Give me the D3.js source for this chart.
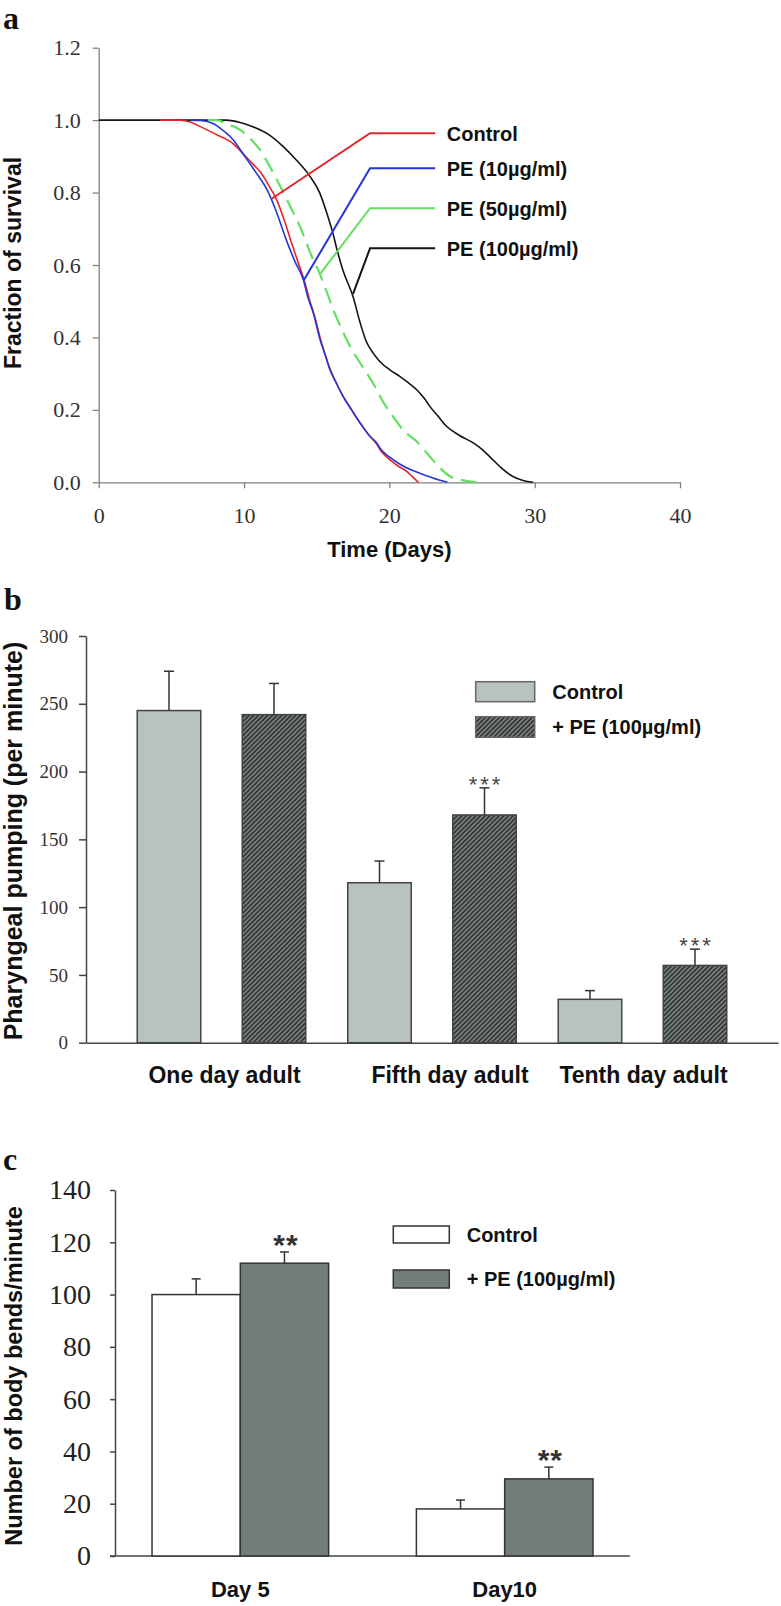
<!DOCTYPE html>
<html><head><meta charset="utf-8">
<script src="https://cdn.jsdelivr.net/npm/d3@7"></script>
<style>body{margin:0;background:#fff}svg{display:block}</style>
</head><body>
<svg id="fig" width="781" height="1606"></svg>
<script>
// ---------------- DATA ----------------
// Panel a: survival curves [day, fraction]
const survivalNames = ["Control", "PE (10µg/ml)", "PE (50µg/ml)", "PE (100µg/ml)"];
const survControl = [[4.2,1.0],[5.6,1.0],[6.3,0.995],[7.0,0.982],[8.0,0.962],[9.25,0.935],[10.1,0.9],[10.7,0.875],[11.1,0.858],[11.7,0.82],[12.25,0.78],[12.8,0.72],[13.2,0.67],[13.7,0.61],[14.2,0.55],[14.5,0.505],[14.85,0.46],[15.3,0.39],[15.6,0.35],[15.95,0.31],[16.4,0.27],[16.85,0.236],[17.4,0.2],[18.0,0.163],[18.6,0.13],[19.14,0.105],[19.4,0.088],[20.05,0.062],[20.6,0.045],[21.2,0.03],[21.6,0.015],[22.0,0.0]];
const survPE10 = [[6.3,1.0],[7.0,0.999],[7.9,0.99],[8.6,0.97],[9.25,0.946],[9.8,0.915],[10.4,0.88],[11.0,0.845],[11.6,0.807],[12.2,0.75],[12.9,0.67],[13.5,0.61],[14.08,0.559],[14.4,0.51],[14.77,0.467],[15.24,0.393],[15.6,0.35],[15.92,0.31],[16.4,0.27],[16.83,0.236],[17.4,0.2],[18.0,0.163],[18.6,0.13],[19.14,0.108],[19.36,0.094],[20.0,0.07],[20.74,0.05],[21.4,0.036],[22.1,0.025],[23.0,0.012],[24.0,0.0]];
const survPE50 = [[7.5,1.0],[8.1,1.0],[8.8,0.99],[9.73,0.973],[10.4,0.95],[11.1,0.918],[11.8,0.87],[12.5,0.817],[13.2,0.76],[13.85,0.706],[14.3,0.66],[14.7,0.62],[15.2,0.577],[15.7,0.525],[16.15,0.476],[16.7,0.425],[17.3,0.375],[17.9,0.335],[18.45,0.301],[19.0,0.265],[19.6,0.22],[20.2,0.185],[20.85,0.149],[21.4,0.128],[21.9,0.112],[22.6,0.08],[23.4,0.043],[24.2,0.016],[25.0,0.006],[26.0,0.0]];
const survPE100 = [[0,1.0],[8.8,1.0],[9.6,0.995],[10.6,0.982],[11.7,0.96],[12.7,0.927],[13.6,0.89],[14.55,0.844],[15.2,0.8],[15.7,0.743],[16.1,0.69],[16.4,0.642],[16.8,0.586],[17.5,0.513],[18.0,0.439],[18.4,0.39],[18.9,0.356],[19.36,0.333],[20.05,0.31],[20.74,0.292],[21.3,0.275],[21.9,0.255],[22.4,0.232],[22.8,0.209],[23.4,0.18],[23.95,0.154],[24.8,0.13],[25.8,0.108],[26.4,0.09],[26.9,0.071],[27.7,0.04],[28.5,0.016],[29.2,0.005],[29.9,0.0]];
// legend leader anchors in data units [day, fraction] and elbow fraction
const leaderAnchor = [[11.9,0.783],[14.13,0.559],[15.27,0.577],[17.5,0.52]];
const leaderElbowY = [0.964,0.867,0.757,0.646];
const xTicksA = [0,10,20,30,40];
const yTicksA = [0,0.2,0.4,0.6,0.8,1.0,1.2];

// Panel b: pharyngeal pumping
const pumpCategories = ["One day adult","Fifth day adult","Tenth day adult"];
const groupNames = ["Control","+ PE (100µg/ml)"];
const pumpControl = [245,118,32];
const pumpControlErr = [29,16,6.4];
const pumpPE = [242,168,57];
const pumpPEErr = [23,20,12];
const pumpSig = ["","***","***"];
const yTicksB = [0,50,100,150,200,250,300];

// Panel c: body bends
const bendCategories = ["Day 5","Day10"];
const bendControl = [100,18];
const bendControlErr = [6,3.4];
const bendPE = [112,29.5];
const bendPEErr = [4.3,4.5];
const bendSig = ["**","**"];
const yTicksC = [0,20,40,60,80,100,120,140];

// ---------------- DRAW ----------------
const SERIF = "'Liberation Serif','Times New Roman',serif";
const SANS = "'Liberation Sans',Arial,sans-serif";
const svg = d3.select("#fig");

const defs = svg.append("defs");
const pat = defs.append("pattern").attr("id","hatch").attr("patternUnits","userSpaceOnUse")
  .attr("width",3.3).attr("height",3.3).attr("patternTransform","rotate(45)");
pat.append("rect").attr("width",3.3).attr("height",3.3).attr("fill","#323737");
pat.append("line").attr("x1",0.8).attr("y1",0).attr("x2",0.8).attr("y2",3.3)
  .attr("stroke","#858b8b").attr("stroke-width",1.4);

function styleAxis(g, color, width, font, size, textColor){
  g.attr("font-family",font).attr("font-size",size);
  g.select(".domain").attr("stroke",color).attr("stroke-width",width);
  g.selectAll(".tick line").attr("stroke",color).attr("stroke-width",width);
  g.selectAll(".tick text").attr("font-family",font).attr("font-size",size).attr("fill",textColor);
}

// panel letters
[["a",3,29],["b",4,610],["c",3,1170]].forEach(([t,x,y])=>{
  svg.append("text").attr("x",x).attr("y",y).attr("font-family",SERIF)
    .attr("font-weight","bold").attr("font-size",32).attr("fill","#111").text(t);
});

// ===== Panel a =====
const xA = d3.scaleLinear().domain([0,40]).range([98.7,680]);
const yA = d3.scaleLinear().domain([0,1.2]).range([482.3,47.7]);
const gA = svg.append("g");
const axXA = gA.append("g").attr("transform",`translate(0,${yA(0)})`)
  .call(d3.axisBottom(xA).tickValues(xTicksA).tickSize(6).tickSizeOuter(0).tickPadding(19).tickFormat(d3.format("d")));
styleAxis(axXA,"#808080",1.3,SERIF,22,"#333");
const axYA = gA.append("g").attr("transform",`translate(${xA(0)},0)`)
  .call(d3.axisLeft(yA).tickValues(yTicksA).tickSize(6).tickSizeOuter(0).tickPadding(12).tickFormat(d3.format(".1f")));
styleAxis(axYA,"#808080",1.3,SERIF,22,"#333");

const lineA = d3.line().x(d=>xA(d[0])).y(d=>yA(d[1])).curve(d3.curveMonotoneX);
const seriesA = [
  {name:survivalNames[3], data:survPE100, color:"#141414", dash:null, i:3},
  {name:survivalNames[2], data:survPE50, color:"#62e062", dash:"16,8", i:2},
  {name:survivalNames[0], data:survControl, color:"#e3262b", dash:null, i:0},
  {name:survivalNames[1], data:survPE10, color:"#2436d8", dash:null, i:1}
];
gA.selectAll("path.curve").data(seriesA).join("path").attr("class","curve")
  .attr("d",d=>lineA(d.data)).attr("fill","none").attr("stroke",d=>d.color)
  .attr("stroke-width",d=>d.dash?2.2:1.6).attr("stroke-dasharray",d=>d.dash);

// legend leaders
const legColors = ["#e3262b","#2436d8","#62e062","#141414"];
const elbowDay = 18.67, endDay = 23.15, textDay = 23.95;
survivalNames.forEach((n,i)=>{
  const pts = [leaderAnchor[i],[elbowDay,leaderElbowY[i]],[endDay,leaderElbowY[i]]];
  gA.append("path").attr("d",d3.line().x(d=>xA(d[0])).y(d=>yA(d[1]))(pts))
    .attr("fill","none").attr("stroke",legColors[i]).attr("stroke-width",2);
  gA.append("text").attr("x",xA(textDay)).attr("y",yA(leaderElbowY[i])).attr("dy","0.38em")
    .attr("font-family",SANS).attr("font-weight","bold").attr("font-size",20).attr("fill","#111").text(n);
});
gA.append("text").attr("x",(xA.range()[0]+xA.range()[1])/2).attr("y",557)
  .attr("text-anchor","middle").attr("font-family",SANS).attr("font-weight","bold")
  .attr("font-size",22).attr("fill","#111").text("Time (Days)");
gA.append("text").attr("transform","translate(20.7,263) rotate(-90)")
  .attr("text-anchor","middle").attr("font-family",SANS).attr("font-weight","bold")
  .attr("font-size",23).attr("fill","#111").text("Fraction of survival");

// ===== Panel b =====
const x0B = d3.scaleBand().domain(pumpCategories).range([86,778]).paddingInner(0).paddingOuter(0.1437);
const x1B = d3.scaleBand().domain(groupNames).range([0,x0B.bandwidth()]).paddingInner(0.3952).paddingOuter(0.2);
const yB = d3.scaleLinear().domain([0,300]).range([1042.7,636]);
const gB = svg.append("g");
const labelNudgeB = [3,18,1];
const axXB = gB.append("g").attr("transform",`translate(0,${yB(0)})`)
  .call(d3.axisBottom(x0B).tickSize(0).tickSizeOuter(0).tickPadding(24));
styleAxis(axXB,"#444",1.5,SANS,23,"#111");
axXB.selectAll(".tick text").attr("font-weight","bold").attr("dx",(d,i)=>labelNudgeB[i]);
const axYB = gB.append("g").attr("transform",`translate(${x0B.range()[0]},0)`)
  .call(d3.axisLeft(yB).tickValues(yTicksB).tickSize(7).tickSizeOuter(0).tickPadding(11));
styleAxis(axYB,"#444",1.5,SERIF,19,"#333");

const rowsB = pumpCategories.map((c,i)=>({cat:c, items:[
  {g:groupNames[0], v:pumpControl[i], e:pumpControlErr[i], sig:""},
  {g:groupNames[1], v:pumpPE[i], e:pumpPEErr[i], sig:pumpSig[i]}]}));
const fillB = {[groupNames[0]]:"#b8c3bf", [groupNames[1]]:"url(#hatch)"};
rowsB.forEach(r=>{
  const g = gB.append("g").attr("transform",`translate(${x0B(r.cat)},0)`);
  r.items.forEach(it=>{
    const cx = x1B(it.g)+x1B.bandwidth()/2;
    g.append("rect").attr("x",x1B(it.g)).attr("y",yB(it.v)).attr("width",x1B.bandwidth())
      .attr("height",yB(0)-yB(it.v)).attr("fill",fillB[it.g]).attr("stroke","#444").attr("stroke-width",1.5);
    g.append("line").attr("x1",cx).attr("x2",cx).attr("y1",yB(it.v)).attr("y2",yB(it.v+it.e))
      .attr("stroke","#333").attr("stroke-width",1.5);
    g.append("line").attr("x1",cx-5).attr("x2",cx+5).attr("y1",yB(it.v+it.e)).attr("y2",yB(it.v+it.e))
      .attr("stroke","#333").attr("stroke-width",1.5);
    if(it.sig){
      g.append("text").attr("x",cx+1.5).attr("y",yB(it.v+it.e)+4).attr("text-anchor","middle")
        .attr("font-family",SANS).attr("font-size",22).attr("letter-spacing",3).attr("fill","#444").text(it.sig);
    }
  });
});
// legend b
[[681.7,20],[716.7,20.6]].forEach(([y,h],i)=>{
  gB.append("rect").attr("x",475.7).attr("y",y).attr("width",59).attr("height",h)
    .attr("fill",fillB[groupNames[i]]).attr("stroke","#666").attr("stroke-width",1.5);
  gB.append("text").attr("x",552.3).attr("y",y+h/2).attr("dy","0.36em").attr("font-family",SANS)
    .attr("font-weight","bold").attr("font-size",20).attr("fill","#111").text(groupNames[i]);
});
gB.append("text").attr("transform","translate(21.7,841) rotate(-90)")
  .attr("text-anchor","middle").attr("font-family",SANS).attr("font-weight","bold")
  .attr("font-size",25).attr("fill","#111").text("Pharyngeal pumping (per minute)");

// ===== Panel c =====
const x0C = d3.scaleBand().domain(bendCategories).range([115,630]).paddingInner(0.332).paddingOuter(0.14);
const x1C = d3.scaleBand().domain(groupNames).range([0,x0C.bandwidth()]);
const yC = d3.scaleLinear().domain([0,140]).range([1556,1190]);
const gC = svg.append("g");
const axXC = gC.append("g").attr("transform",`translate(0,${yC(0)})`)
  .call(d3.axisBottom(x0C).tickSize(0).tickSizeOuter(0).tickPadding(25.4));
styleAxis(axXC,"#444",1.5,SANS,22,"#111");
axXC.selectAll(".tick text").attr("font-weight","bold");
const axYC = gC.append("g").attr("transform",`translate(${x0C.range()[0]},0)`)
  .call(d3.axisLeft(yC).tickValues(yTicksC).tickSize(5).tickSizeOuter(0).tickPadding(19));
styleAxis(axYC,"#444",1.5,SERIF,28,"#222");
// extend baseline to the left under the 0 tick
axXC.select(".domain").attr("d",`M${x0C.range()[0]-5},0H${x0C.range()[1]}`);

const rowsC = bendCategories.map((c,i)=>({cat:c, items:[
  {g:groupNames[0], v:bendControl[i], e:bendControlErr[i], sig:""},
  {g:groupNames[1], v:bendPE[i], e:bendPEErr[i], sig:bendSig[i]}]}));
const fillC = {[groupNames[0]]:"#ffffff", [groupNames[1]]:"#717e7b"};
rowsC.forEach(r=>{
  const g = gC.append("g").attr("transform",`translate(${x0C(r.cat)},0)`);
  r.items.forEach(it=>{
    const cx = x1C(it.g)+x1C.bandwidth()/2;
    g.append("rect").attr("x",x1C(it.g)).attr("y",yC(it.v)).attr("width",x1C.bandwidth())
      .attr("height",yC(0)-yC(it.v)).attr("fill",fillC[it.g]).attr("stroke","#333").attr("stroke-width",1.5);
    g.append("line").attr("x1",cx).attr("x2",cx).attr("y1",yC(it.v)).attr("y2",yC(it.v+it.e))
      .attr("stroke","#333").attr("stroke-width",1.5);
    g.append("line").attr("x1",cx-4.5).attr("x2",cx+4.5).attr("y1",yC(it.v+it.e)).attr("y2",yC(it.v+it.e))
      .attr("stroke","#333").attr("stroke-width",1.5);
    if(it.sig){
      g.append("text").attr("x",cx+1.5).attr("y",yC(it.v+it.e)+3).attr("text-anchor","middle")
        .attr("font-family",SANS).attr("font-weight","bold").attr("font-size",30).attr("letter-spacing",1)
        .attr("fill","#333").text(it.sig);
    }
  });
});
[[1226,17],[1270,18]].forEach(([y,h],i)=>{
  gC.append("rect").attr("x",393.3).attr("y",y).attr("width",56).attr("height",h)
    .attr("fill",fillC[groupNames[i]]).attr("stroke","#333").attr("stroke-width",1.5);
  gC.append("text").attr("x",466.7).attr("y",y+h/2).attr("dy","0.36em").attr("font-family",SANS)
    .attr("font-weight","bold").attr("font-size",20).attr("fill","#111").text(groupNames[i]);
});
gC.append("text").attr("transform","translate(21.7,1376) rotate(-90)")
  .attr("text-anchor","middle").attr("font-family",SANS).attr("font-weight","bold")
  .attr("font-size",23.5).attr("fill","#111").text("Number of body bends/minute");
</script>
</body></html>
